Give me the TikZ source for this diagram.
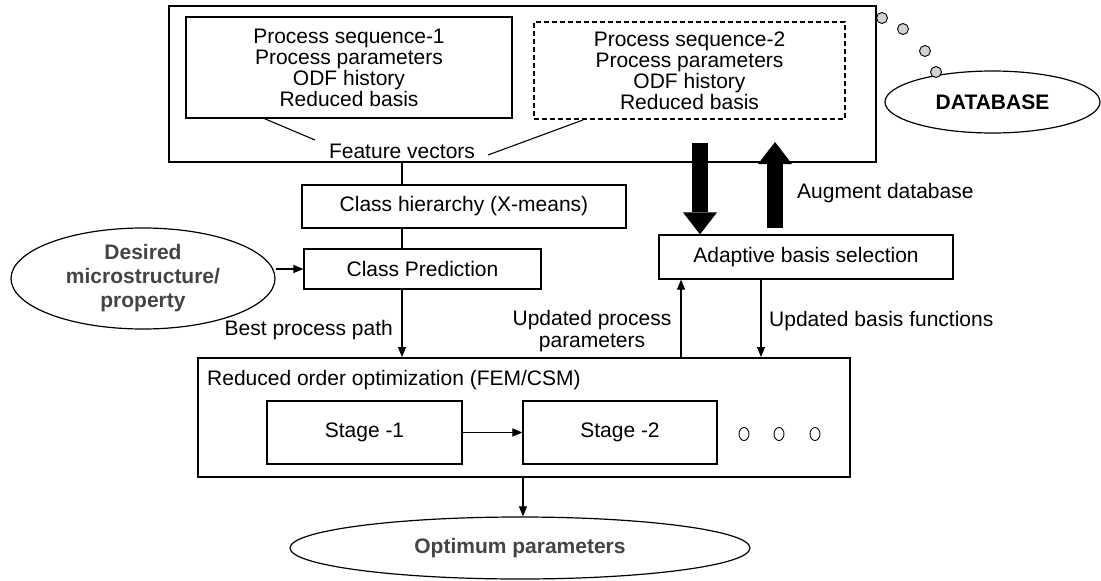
\documentclass[tikz,border=0pt]{standalone}
\usepackage{fontspec}
\setmainfont{Liberation Sans}
\usetikzlibrary{arrows.meta,shapes.geometric,calc}
\definecolor{txtgray}{HTML}{444444}
\begin{document}
\begin{tikzpicture}[x=1pt,y=-1pt,
  txt/.style={font=\fontsize{21}{21}\selectfont, inner sep=0pt},
  box/.style={draw, line width=1.2pt, inner sep=0pt, align=center, txt},
  heavybox/.style={box, line width=2pt},
  conn/.style={line width=1.1pt},
  arr/.style={line width=1.1pt, -{Triangle[length=10pt,width=8pt]}},
  big/.style={line width=16pt, -{Triangle[length=22pt,width=34pt,line width=0pt]}},
  oval/.style={draw, ellipse, line width=1.2pt, inner sep=0pt, align=center},
  bubble/.style={circle, draw, fill=gray!35, minimum size=11pt, inner sep=0pt, line width=0.9pt},
  smalldot/.style={ellipse, draw, minimum width=10pt, minimum height=13pt, inner sep=0pt, line width=0.9pt}]
\useasboundingbox (0,0) rectangle (1101,581);

% top database box
\node[heavybox, minimum width=707pt, minimum height=156pt] (top) at (522.5,84) {};
\node[box, minimum width=326pt, minimum height=101pt] (b1) at (349,67.5)
  {Process sequence-1\\Process parameters\\ODF history\\Reduced basis};
\node[box, dash pattern=on 5pt off 3pt, minimum width=311pt, minimum height=97pt] (b2) at (689.5,70.5)
  {Process sequence-2\\Process parameters\\ODF history\\Reduced basis};
\node[txt] (fv) at (402,151) {Feature vectors};
\coordinate (l1a) at (263,118);
\coordinate (l1b) at (315,140);
\coordinate (l2a) at (488,155);
\coordinate (l2b) at (583,120);
\draw[conn] (l1a) -- (l1b);
\draw[conn] (l2a) -- (l2b);

% database bubble
\node[oval, minimum width=215pt, minimum height=62pt, font=\fontsize{21}{21}\selectfont\bfseries] (db) at (992.5,102) {DATABASE};
\node[bubble] (c1) at (882,18) {};
\node[bubble] (c2) at (903,29) {};
\node[bubble] (c3) at (925,51) {};
\node[bubble] (c4) at (936,72) {};

% class hierarchy & prediction
\node[box, minimum width=324pt, minimum height=43pt] (ch) at (464,206.5) {Class hierarchy (X-means)};
\node[box, minimum width=237pt, minimum height=40pt] (cp) at (422.5,269) {Class Prediction};
\draw[conn] (top.south -| 402,0) -- (ch.north -| 402,0);
\draw[conn] (ch.south -| 402,0) -- (cp.north -| 402,0);

\node[oval, minimum width=264pt, minimum height=101pt, text=txtgray, font=\fontsize{21}{24}\selectfont\bfseries] (des) at (143,278.5)
  {Desired\\microstructure/\\property};
\draw[arr] (des.east |- cp.west) -- (cp.west);

% reduced order optimization
\node[heavybox, minimum width=652pt, minimum height=119pt] (ro) at (524,417.5) {};
\node[txt, anchor=west] (rot) at (207,380) {Reduced order optimization (FEM/CSM)};
\node[box, minimum width=195pt, minimum height=63pt] (s1) at (364.5,432.5) {Stage -1};
\node[box, minimum width=194pt, minimum height=63pt] (s2) at (620,432.5) {Stage -2};
\draw[arr] (s1.east) -- (s2.west);
\node[smalldot] (d1) at (744,434) {};
\node[smalldot] (d2) at (779,434) {};
\node[smalldot] (d3) at (815,434) {};

\draw[arr] (cp.south -| 402,0) -- (ro.north -| 402,0);
\node[txt, anchor=east] (bpp) at (393,330) {Best process path};

% optimum
\node[oval, minimum width=460pt, minimum height=62pt, text=txtgray, font=\fontsize{21}{21}\selectfont\bfseries] (opt) at (520,548) {Optimum parameters};
\draw[arr] (ro.south -| 523,0) -- (opt.north -| 523,0);

% adaptive basis
\node[box, minimum width=294pt, minimum height=44pt] (ab) at (806,257) {Adaptive basis selection};
\draw[arr] (ro.north -| 681,0) -- (ab.south -| 681,0);
\draw[arr] (ab.south -| 761,0) -- (ro.north -| 761,0);
\node[txt, align=center, font=\fontsize{21}{22}\selectfont] (upp) at (592,331) {Updated process\\parameters};
\node[txt, anchor=west] (ubf) at (769,321) {Updated basis functions};
\node[txt, anchor=west] (aug) at (797,193) {Augment database};

% big arrows
\coordinate (bd1) at (700,143);
\coordinate (bu1) at (775,228);
\coordinate (bu2) at (775,142);
\draw[big] (bd1) -- (ab.north -| bd1);
\draw[big] (bu1) -- (bu2);
\end{tikzpicture}
\end{document}
